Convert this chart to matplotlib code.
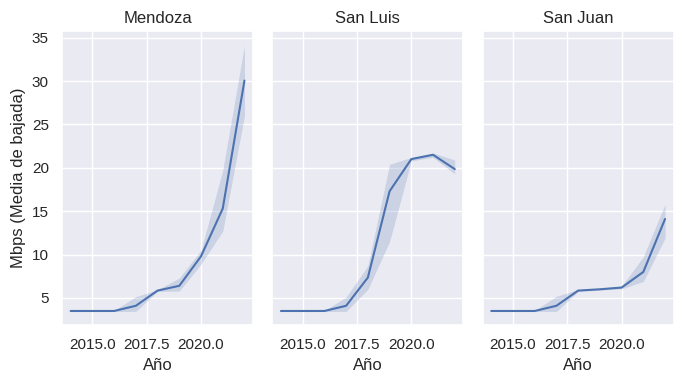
import matplotlib
matplotlib.use("Agg")
import matplotlib.pyplot as plt
import seaborn as sns
import numpy as np

sns.set_theme(style="darkgrid")
plt.rcParams['font.family'] = ['Liberation Sans', 'DejaVu Sans']

years = [2014, 2015, 2016, 2017, 2018, 2019, 2020, 2021, 2022]
provincias = ["Mendoza", "San Luis", "San Juan"]

media = {
    "Mendoza":  [3.5, 3.5, 3.5, 4.1, 5.85, 6.4, 9.8, 15.3, 30.05],
    "San Luis": [3.5, 3.5, 3.5, 4.1, 7.35, 17.3, 21.0, 21.5, 19.85],
    "San Juan": [3.5, 3.5, 3.5, 4.1, 5.85, 6.0, 6.2, 8.0, 14.1],
}
ci_low = {
    "Mendoza":  [3.45, 3.45, 3.45, 3.45, 5.75, 5.8, 8.9, 12.7, 26.0],
    "San Luis": [3.45, 3.45, 3.45, 3.45, 6.0, 11.5, 20.8, 21.2, 19.3],
    "San Juan": [3.45, 3.45, 3.45, 3.45, 5.75, 5.9, 6.05, 6.9, 11.9],
}
ci_high = {
    "Mendoza":  [3.55, 3.55, 3.55, 5.15, 5.95, 7.3, 10.5, 19.7, 34.1],
    "San Luis": [3.55, 3.55, 3.55, 5.1, 8.7, 20.4, 21.2, 21.7, 20.9],
    "San Juan": [3.55, 3.55, 3.55, 5.2, 5.95, 6.1, 6.35, 9.75, 15.8],
}

fig, axes = plt.subplots(1, 3, figsize=(6.84, 3.84), dpi=100, sharex=True, sharey=True)
fig.subplots_adjust(left=0.0906, right=0.985, top=0.919, bottom=0.154, wspace=0.1)

color = sns.color_palette("deep")[0]
for ax, p in zip(axes, provincias):
    ax.fill_between(years, ci_low[p], ci_high[p], color=color, alpha=0.2, linewidth=0)
    ax.plot(years, media[p], color=color, linewidth=1.5)
    ax.set_title(p, fontsize=12)
    ax.set_xlabel("Año", fontsize=12)
    ax.set_xticks([2015.0, 2017.5, 2020.0])
    ax.set_xticklabels(["2015.0", "2017.5", "2020.0"])
    ax.tick_params(labelsize=11)

axes[0].set_xlim(2013.6, 2022.4)
axes[0].set_ylim(1.9, 35.75)
axes[0].set_yticks([5, 10, 15, 20, 25, 30, 35])
axes[0].set_ylabel("Mbps (Media de bajada)", fontsize=12)

fig.savefig("out.png", dpi=100)
